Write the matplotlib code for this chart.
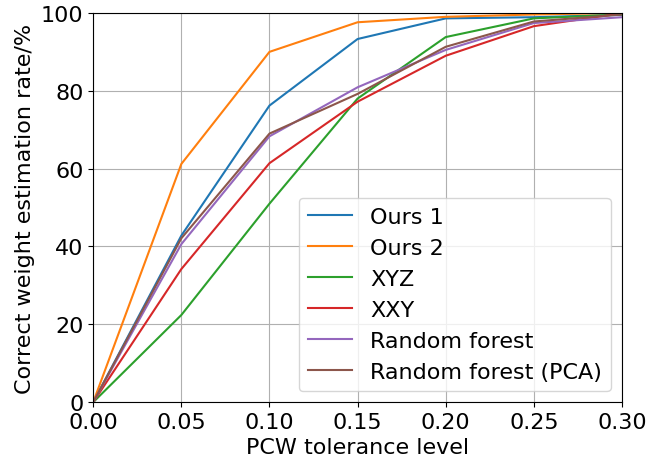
import matplotlib
matplotlib.use("Agg")
import matplotlib.pyplot as plt

# tolerance levels on the x axis
tolerance = [0.0, 0.05, 0.10, 0.15, 0.20, 0.25, 0.30]

# correct weight estimation rate (%) for each method
ours1 = [0, 42.8, 76.2, 93.3, 98.6, 98.9, 99.5]
ours2 = [0, 61.2, 90.0, 97.6, 99.0, 99.6, 100]
xyz = [0, 22.4, 51.0, 78.0, 93.8, 98.6, 99.6]
xxy = [0, 34.2, 61.4, 77.2, 89.0, 96.6, 99.9]
rf = [0, 40.6, 68.3, 80.9, 90.5, 97.4, 98.9]
rf_pca = [0, 42.1, 69.0, 79.2, 91.3, 97.8, 99.6]

series = [("Ours 1", ours1), ("Ours 2", ours2), ("XYZ", xyz), ("XXY", xxy),
          ("Random forest", rf), ("Random forest (PCA)", rf_pca)]


def main():
    fig, ax = plt.subplots(figsize=(6.61, 4.64), dpi=100)
    for label, vals in series:
        ax.plot(tolerance, vals, label=label, linewidth=1.5)

    ax.set_xlim(0, 0.30)
    ax.set_ylim(0, 100)
    ax.set_xticks(tolerance)
    ax.tick_params(labelsize=16)
    ax.set_xlabel("PCW tolerance level", fontsize=16)
    ax.set_ylabel("Correct weight estimation rate/%", fontsize=16)
    ax.grid(True)
    ax.legend(loc="lower right", fontsize=16)

    fig.subplots_adjust(left=0.141, right=0.941, top=0.970, bottom=0.131)
    plt.savefig("out.png")


if __name__ == "__main__":
    main()
